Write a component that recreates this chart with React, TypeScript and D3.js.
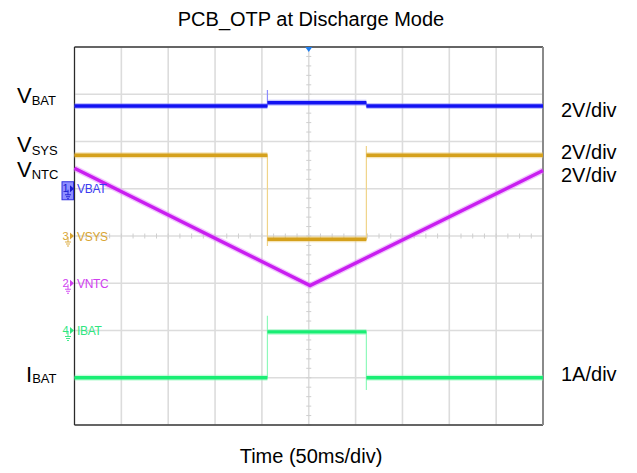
import React from 'react';
import * as d3 from 'd3';

// time in ms (trigger at 0), values in physical units
const VBAT_T = [-250, -44.1, -44.1, -44.1, 61.5, 61.5, 250];
const VBAT_V = [3.5, 3.5, 4.18, 3.64, 3.64, 3.5, 3.5];

const VSYS_T = [-250, -44.1, -44.1, -44.1, 61.5, 61.5, 61.5, 250];
const VSYS_V = [3.42, 3.42, -0.42, -0.14, -0.14, 3.81, 3.42, 3.42];

const VNTC_T = [-250, 1.4, 250];
const VNTC_V = [4.87, -0.1, 4.77];

const IBAT_T = [-250, -44.1, -44.1, -44.1, 61.5, 61.5, 61.5, 250];
const IBAT_V = [-1.0, -1.0, 0.31, -0.03, -0.03, -1.26, -1.0, -1.0];

const CHANNELS = ['VBAT', 'VSYS', 'VNTC', 'IBAT'];
const CH_NUMBERS = ['1', '3', '2', '4'];
const CH_OFFSET_DIV = [1, 0, -1, -2];
const CH_PER_DIV = [2, 2, 2, 1];
const CH_SCALE_LABELS = ['2V/div', '2V/div', '2V/div', '1A/div'];

const COLORS = {
  VBAT: { core: '#1212f2', halo: '#7a7aff', edge: '#8c8cff', label: '#3b3bf0' },
  VSYS: { core: '#d5a11c', halo: '#e8c463', edge: '#f0d48a', label: '#d9a532' },
  VNTC: { core: '#c91ef0', halo: '#e07dfc', edge: '#e590ff', label: '#d040f0' },
  IBAT: { core: '#19ee74', halo: '#84f8b4', edge: '#8ff9bb', label: '#2fe67f' },
};

type Pt = { t: number; v: number };

const W = 637;
const H = 473;

const x = d3.scaleLinear().domain([-250, 250]).range([74.5, 543]);
const yDiv = d3.scaleLinear().domain([-4, 4]).range([425, 47]);

const zip = (t: number[], v: number[]): Pt[] => t.map((tt, i) => ({ t: tt, v: v[i] }));

const seriesData = [zip(VBAT_T, VBAT_V), zip(VSYS_T, VSYS_V), zip(VNTC_T, VNTC_V), zip(IBAT_T, IBAT_V)];

function Trace({ pts, ch }: { pts: Pt[]; ch: number }) {
  const name = CHANNELS[ch];
  const c = COLORS[name as keyof typeof COLORS];
  const yy = (v: number) => yDiv(CH_OFFSET_DIV[ch] + v / CH_PER_DIV[ch]);
  const line = d3.line<Pt>().x(d => x(d.t)).y(d => yy(d.v));

  // level runs are drawn thick, fast edges thin
  const runs: Pt[][] = [];
  let cur: Pt[] = [];
  for (let i = 0; i < pts.length - 1; i++) {
    if (pts[i].t !== pts[i + 1].t) {
      if (cur.length === 0) cur.push(pts[i]);
      cur.push(pts[i + 1]);
    } else if (cur.length) {
      runs.push(cur);
      cur = [];
    }
  }
  if (cur.length) runs.push(cur);

  return (
    <g>
      <path d={line(pts) || ''} fill="none" stroke={c.edge} strokeWidth={1.2} />
      {runs.map((r, i) => (
        <path key={'h' + i} d={line(r) || ''} fill="none" stroke={c.halo} strokeWidth={6} opacity={0.45} />
      ))}
      {runs.map((r, i) => (
        <path key={'c' + i} d={line(r) || ''} fill="none" stroke={c.core} strokeWidth={3.4} />
      ))}
    </g>
  );
}

function Marker({ ch }: { ch: number }) {
  const name = CHANNELS[ch];
  const c = COLORS[name as keyof typeof COLORS];
  const y0 = yDiv(CH_OFFSET_DIV[ch]);
  const boxed = ch === 0;
  return (
    <g>
      {boxed && <rect x={62} y={y0 - 7} width={11.5} height={18} fill="#8f8fff" stroke="#3030e0" strokeWidth={1} />}
      <text x={62.5} y={y0 + 3.5} fontSize={11} fill={boxed ? '#1a1ad0' : c.label} fontFamily="Liberation Sans, Arial, sans-serif">
        {CH_NUMBERS[ch]}
      </text>
      <path
        d={`M${68},${y0 + 1}V${y0 + 6}M${65},${y0 + 6}H${71}M${66},${y0 + 8}H${70}M${67},${y0 + 10}H${69}`}
        stroke={boxed ? '#1a1ad0' : c.label}
        strokeWidth={0.9}
        fill="none"
      />
      <path d={`M${70},${y0 - 3.5}L${74},${y0}L${70},${y0 + 3.5}Z`} fill={boxed ? '#1a1ad0' : c.label} />
      <text x={77} y={y0 + 4.5} fontSize={12} fill={c.label} fontFamily="Liberation Sans, Arial, sans-serif" letterSpacing={-0.3}>
        {name}
      </text>
    </g>
  );
}

export default function App() {
  const [x0, x1] = x.range();
  const [y1, y0] = yDiv.range();
  const xGrid = d3.range(-250, 251, 50);
  const yGrid = d3.range(-4, 5, 1);
  const xMinor = d3.range(-250, 250.1, 12.5);
  const yMinor = d3.range(-4, 4.01, 0.2);
  const font = 'Liberation Sans, Arial, sans-serif';

  return (
    <svg width={W} height={H} style={{ position: 'absolute', left: 0, top: 0, background: '#fff' }} fontFamily={font}>
      <rect x={0} y={0} width={W} height={H} fill="#fff" />
      <text x={311} y={26} fontSize={20} textAnchor="middle" fill="#000">PCB_OTP at Discharge Mode</text>

      {/* grid */}
      {xGrid.map(t => (
        <line key={'gx' + t} x1={x(t)} x2={x(t)} y1={y0} y2={y1} stroke="#dcdcdc" strokeWidth={1.6} />
      ))}
      {yGrid.map(d => (
        <line key={'gy' + d} x1={x0} x2={x1} y1={yDiv(d)} y2={yDiv(d)} stroke="#dcdcdc" strokeWidth={1.6} />
      ))}
      {xMinor.map(t => (
        <line key={'mx' + t} x1={x(t)} x2={x(t)} y1={yDiv(0) - 2.5} y2={yDiv(0) + 2.5} stroke="#cfcfcf" strokeWidth={1} />
      ))}
      {yMinor.map(d => (
        <line key={'my' + d} x1={x(0) - 2.5} x2={x(0) + 2.5} y1={yDiv(d)} y2={yDiv(d)} stroke="#cfcfcf" strokeWidth={1} />
      ))}

      {/* frame */}
      <line x1={x0} x2={x1} y1={y0} y2={y0} stroke="#3a3a3a" strokeWidth={1.4} />
      <line x1={x0} x2={x1} y1={y1} y2={y1} stroke="#3a3a3a" strokeWidth={1.5} />
      <line x1={x0} x2={x0} y1={y0} y2={y1} stroke="#2a2a2a" strokeWidth={1.2} />
      <line x1={x1} x2={x1} y1={y0} y2={y1} stroke="#8a8a8a" strokeWidth={2} />

      {/* trigger marker */}
      <path d={`M${x(0) - 3.5},${y0}L${x(0) + 3.5},${y0}L${x(0)},${y0 + 5}Z`} fill="#1f7fef" />

      {seriesData.map((pts, i) => (
        <Trace key={CHANNELS[i]} pts={pts} ch={i} />
      ))}
      {CHANNELS.map((_, i) => (
        <Marker key={'m' + i} ch={i} />
      ))}

      {/* left channel names */}
      <text x={17} y={103} fontSize={22} fill="#000">V<tspan fontSize={13} dy={2}>BAT</tspan></text>
      <text x={17} y={152} fontSize={22} fill="#000">V<tspan fontSize={13} dy={2.5}>SYS</tspan></text>
      <text x={17} y={177} fontSize={22} fill="#000">V<tspan fontSize={13} dy={2}>NTC</tspan></text>
      <text x={26} y={381.5} fontSize={22} fill="#000">I<tspan fontSize={13} dy={1.5}>BAT</tspan></text>

      {/* right scale labels */}
      {CH_SCALE_LABELS.map((s, i) => (
        <text key={'s' + i} x={561} y={[116.5, 159, 181.5, 381][i]} fontSize={20} fill="#000">{s}</text>
      ))}

      <text x={311} y={463} fontSize={20} textAnchor="middle" fill="#000">Time (50ms/div)</text>
    </svg>
  );
}
